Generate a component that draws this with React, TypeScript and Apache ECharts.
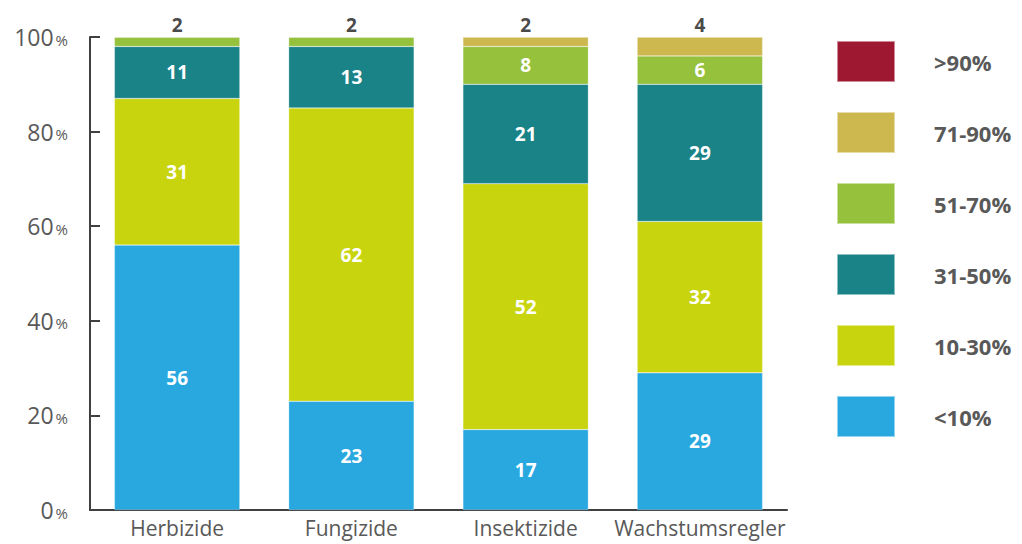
import React, { useEffect, useRef } from "react";
import * as echarts from "echarts";

const categories = ["Herbizide", "Fungizide", "Insektizide", "Wachstumsregler"];
const seriesNames = ["<10%", "10-30%", "31-50%", "51-70%", "71-90%", ">90%"];
const lt10 = [56, 23, 17, 29];
const p10to30 = [31, 62, 52, 32];
const p31to50 = [11, 13, 21, 29];
const p51to70 = [2, 2, 8, 6];
const p71to90 = [0, 0, 2, 4];
const gt90 = [0, 0, 0, 0];
const yTicks = [0, 20, 40, 60, 80, 100];

const seriesValues = [lt10, p10to30, p31to50, p51to70, p71to90, gt90];
const colors = ["#29A8E0", "#C8D40E", "#1A8388", "#95C13D", "#CDB850", "#9D1830"];

const FONT = "'Open Sans', 'Noto Sans', sans-serif";
const GRAY = "#595959";

export default function App() {
  const ref = useRef<HTMLDivElement>(null);
  useEffect(() => {
    if (!ref.current) return;
    const chart = echarts.init(ref.current, null, { renderer: "svg" });
    const series = seriesValues.map((vals, si) => ({
      name: seriesNames[si],
      type: "bar",
      stack: "total",
      barWidth: "72%",
      itemStyle: { color: colors[si], borderColor: "rgba(255,255,255,0.5)", borderWidth: 0.5 },
      data: vals.map((v) => {
        const small = v > 0 && v < 5;
        return {
          value: v,
          label: {
            show: v > 0,
            position: small ? "top" : "inside",
            distance: small ? 3 : 5,
            color: small ? "#4a4a4a" : "#ffffff",
            fontWeight: "bold",
            fontSize: 19,
            fontFamily: FONT,
          },
        };
      }),
    }));
    chart.setOption({
      animation: false,
      grid: { left: 90, right: 235, top: 37, bottom: 34, containLabel: false },
      legend: {
        orient: "vertical",
        left: 836,
        top: 40,
        padding: 0,
        itemWidth: 58,
        itemHeight: 41,
        itemGap: 28,
        data: [...seriesNames].reverse(),
        icon: "rect",
        textStyle: {
          color: GRAY,
          fontSize: 22,
          fontWeight: "bold",
          fontFamily: FONT,
          padding: [0, 0, 0, 34],
        },
      },
      xAxis: {
        type: "category",
        data: categories,
        axisLine: { lineStyle: { color: "#404040", width: 2 } },
        axisTick: { inside: true, length: 10, lineStyle: { color: "#404040", width: 2 } },
        axisLabel: { color: GRAY, fontSize: 21, fontFamily: FONT, margin: 7, interval: 0 },
      },
      yAxis: {
        type: "value",
        min: yTicks[0],
        max: yTicks[yTicks.length - 1],
        interval: 20,
        splitLine: { show: false },
        axisLine: { show: true, lineStyle: { color: "#404040", width: 2 } },
        axisTick: { show: true, inside: true, length: 10, lineStyle: { color: "#404040", width: 2 } },
        axisLabel: {
          margin: 22,
          formatter: (v: number) => `{a|${v}}{b|%}`,
          rich: {
            a: { color: GRAY, fontSize: 23, fontFamily: FONT },
            b: { color: GRAY, fontSize: 15, fontFamily: FONT, padding: [5, 0, 0, 2] },
          },
        },
      },
      series,
    });
    return () => chart.dispose();
  }, []);
  return (
    <div
      ref={ref}
      style={{ position: "fixed", left: 0, top: 0, width: 1022, height: 544, background: "#fff" }}
    />
  );
}
